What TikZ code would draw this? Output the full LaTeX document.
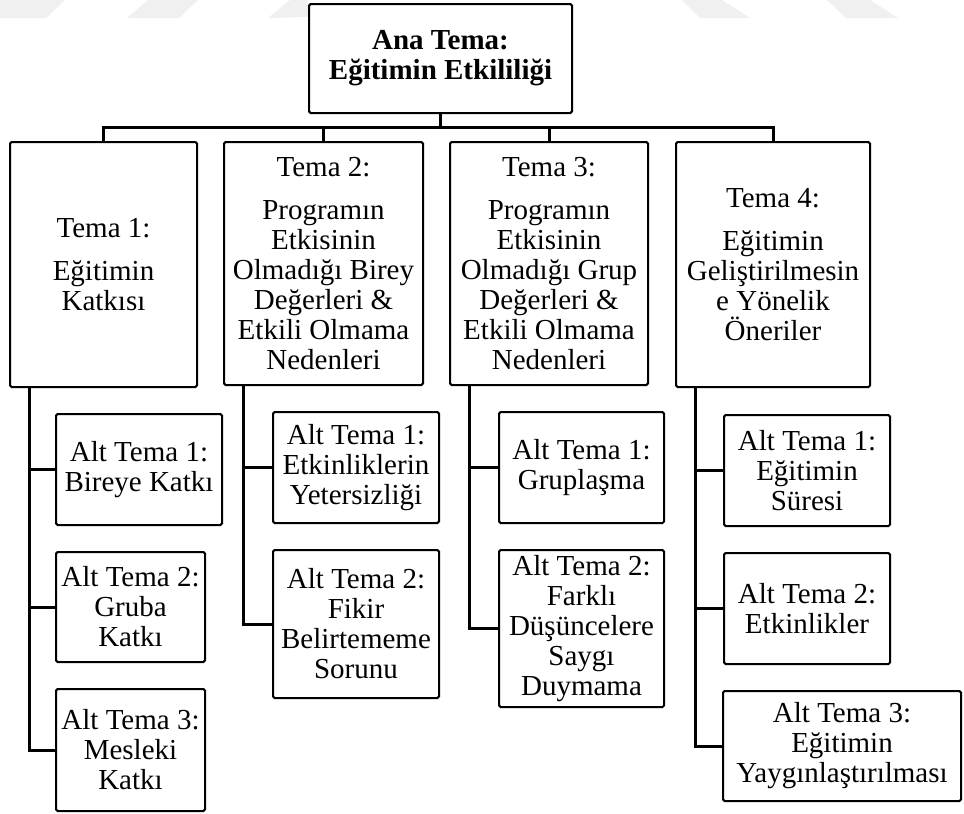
\documentclass[tikz,border=0pt]{standalone}
\usepackage{fontspec}
\setmainfont{Liberation Serif}
\usepackage{tikz}

\tikzset{
  kutu/.style 2 args={draw, line width=1.5pt, rounded corners=1.2pt, align=center, inner sep=0pt,
    minimum width=#1*0.75pt, minimum height=#2*0.75pt,
    font=\fontsize{21.75}{22.5}\selectfont},
  bag/.style={line width=2.25pt},
  iz/.style={fill=black!6, draw=none}
}

\begin{document}
\begin{tikzpicture}[x=0.75pt,y=0.75pt,yscale=-1,xscale=1]

\fill[white] (0,0) rectangle (964,814);
\useasboundingbox (0,0) rectangle (964,814);

% faint watermark at the top
\fill[iz] (0,0) -- (65,0) -- (46,18) -- (0,18) -- cycle ;
\fill[iz] (148,0) -- (198,0) -- (179,18) -- (127,18) -- cycle ;
\fill[iz] (290,0) -- (308,0) -- (308,17) -- (268,18) -- cycle ;
\fill[iz] (682,0) -- (722,0) -- (750,18) -- (700,18) -- cycle ;
\fill[iz] (827,0) -- (870,0) -- (898,18) -- (846,18) -- cycle ;

% main theme
\node[kutu={263}{109}, font=\fontsize{21.75}{22.5}\selectfont\bfseries] (ana) at (440.5,58.5) {Ana Tema:\\Eğitimin Etkililiği};

% themes
\node[kutu={187}{245}] (t1) at (103.5,264.5) {Tema 1:\\[9.75pt]Eğitimin\\Katkısı};
\node[kutu={199}{243}] (t2) at (323.5,263.5) {Tema 2:\\[9.75pt]Programın\\Etkisinin\\Olmadığı Birey\\Değerleri \&\\Etkili Olmama\\Nedenleri};
\node[kutu={198}{243}] (t3) at (549,263.5) {Tema 3:\\[9.75pt]Programın\\Etkisinin\\Olmadığı Grup\\Değerleri \&\\Etkili Olmama\\Nedenleri};
\node[kutu={194}{245}] (t4) at (773,264.5) {Tema 4:\\[9.75pt]Eğitimin\\Geliştirilmesin\\e Yönelik\\Öneriler};

% sub themes
\node[kutu={166}{111}] (a11) at (139,469.5) {Alt Tema 1:\\Bireye Katkı};
\node[kutu={149}{110}] (a12) at (130.5,607) {Alt Tema 2:\\Gruba\\Katkı};
\node[kutu={149}{122}] (a13) at (130.5,750) {Alt Tema 3:\\Mesleki\\Katkı};

\node[kutu={166}{111}] (a21) at (356,467.5) {Alt Tema 1:\\Etkinliklerin\\Yetersizliği};
\node[kutu={166}{148}] (a22) at (356,624) {Alt Tema 2:\\Fikir\\Belirtememe\\Sorunu};

\node[kutu={165}{111}] (a31) at (581.5,467.5) {Alt Tema 1:\\Gruplaşma};
\node[kutu={165}{157}] (a32) at (581.5,628.5) {Alt Tema 2:\\Farklı\\Düşüncelere\\Saygı\\Duymama};

\node[kutu={166}{111}] (a41) at (807,470.5) {Alt Tema 1:\\Eğitimin\\Süresi};
\node[kutu={166}{111}] (a42) at (807,608.5) {Alt Tema 2:\\Etkinlikler};
\node[kutu={238}{110}] (a43) at (842,746) {Alt Tema 3:\\Eğitimin\\Yaygınlaştırılması};

% connectors
\coordinate (bar) at (440.5,127);
\draw[bag] (ana.south) -- (bar);
\draw[bag] (t1.north) |- (bar) -| (t4.north);
\draw[bag] (t2.north) -- (t2.north |- bar);
\draw[bag] (t3.north) -- (t3.north |- bar);

\foreach \t/\alt in {t1/a11, t1/a12, t1/a13, t2/a21, t2/a22, t3/a31, t3/a32, t4/a41, t4/a42, t4/a43}
  \draw[bag] (\t.south west) ++(20,0) |- (\alt.west);

\end{tikzpicture}
\end{document}
